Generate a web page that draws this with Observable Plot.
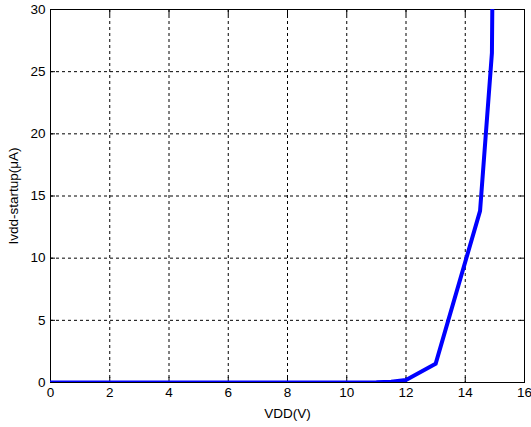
<!DOCTYPE html>
<html>
<head>
<meta charset="utf-8">
<script src="https://cdn.jsdelivr.net/npm/d3@7"></script>
<script src="https://cdn.jsdelivr.net/npm/@observablehq/plot@0.6"></script>
<style>
  html, body { margin: 0; padding: 0; background: #fff; }
</style>
</head>
<body>
<div id="chart"></div>
<script>
const vdd = [0, 1, 2, 3, 4, 5, 6, 7, 8, 9, 10, 11, 11.5, 12, 13, 14.5, 14.9, 14.95];
const ivdd = [0, 0, 0, 0, 0, 0, 0, 0, 0, 0, 0, 0.02, 0.06, 0.2, 1.5, 13.8, 26.5, 40];
const xTicks = [0, 2, 4, 6, 8, 10, 12, 14, 16];
const yTicks = [0, 5, 10, 15, 20, 25, 30];
const xGrid = [2, 4, 6, 8, 10, 12, 14];
const yGrid = [5, 10, 15, 20, 25];
const xLabel = "VDD(V)";
const yLabel = "Ivdd-startup(μA)";

const data = vdd.map((v, i) => ({x: v, y: ivdd[i]}));

const chart = Plot.plot({
  width: 531,
  height: 427,
  marginLeft: 50,
  marginRight: 7,
  marginTop: 9,
  marginBottom: 45,
  style: {fontFamily: "'Liberation Sans', Arial, sans-serif", fontSize: "13.5px", color: "black", background: "white"},
  x: {domain: [0, 16]},
  y: {domain: [0, 30]},
  marks: [
    Plot.gridX(xGrid, {stroke: "black", strokeOpacity: 1, strokeDasharray: "3,3"}),
    Plot.gridY(yGrid, {stroke: "black", strokeOpacity: 1, strokeDasharray: "3,3"}),
    Plot.axisX(xTicks, {anchor: "bottom", tickSize: 0, tickPadding: 5, label: null, fill: "black"}),
    Plot.axisY(yTicks, {anchor: "left", tickSize: 0, tickPadding: 5, label: null, fill: "black"}),
    Plot.axisX(xTicks, {anchor: "bottom", tickSize: -5, text: null, label: null, stroke: "black"}),
    Plot.axisX(xTicks, {anchor: "top", tickSize: -5, text: null, label: null, stroke: "black"}),
    Plot.axisY(yTicks, {anchor: "left", tickSize: -5, text: null, label: null, stroke: "black"}),
    Plot.axisY(yTicks, {anchor: "right", tickSize: -5, text: null, label: null, stroke: "black"}),
    Plot.frame({stroke: "black", strokeWidth: 1}),
    Plot.line(data, {x: "x", y: "y", stroke: "#0000ff", strokeWidth: 4, clip: true}),
    Plot.text([xLabel], {frameAnchor: "bottom", dy: 31, text: d => d, fill: "black", lineAnchor: "middle", textAnchor: "middle"}),
    Plot.text([yLabel], {frameAnchor: "left", dx: -37, rotate: -90, text: d => d, fill: "black", lineAnchor: "middle", textAnchor: "middle"})
  ]
});
document.getElementById("chart").appendChild(chart);
</script>
</body>
</html>
